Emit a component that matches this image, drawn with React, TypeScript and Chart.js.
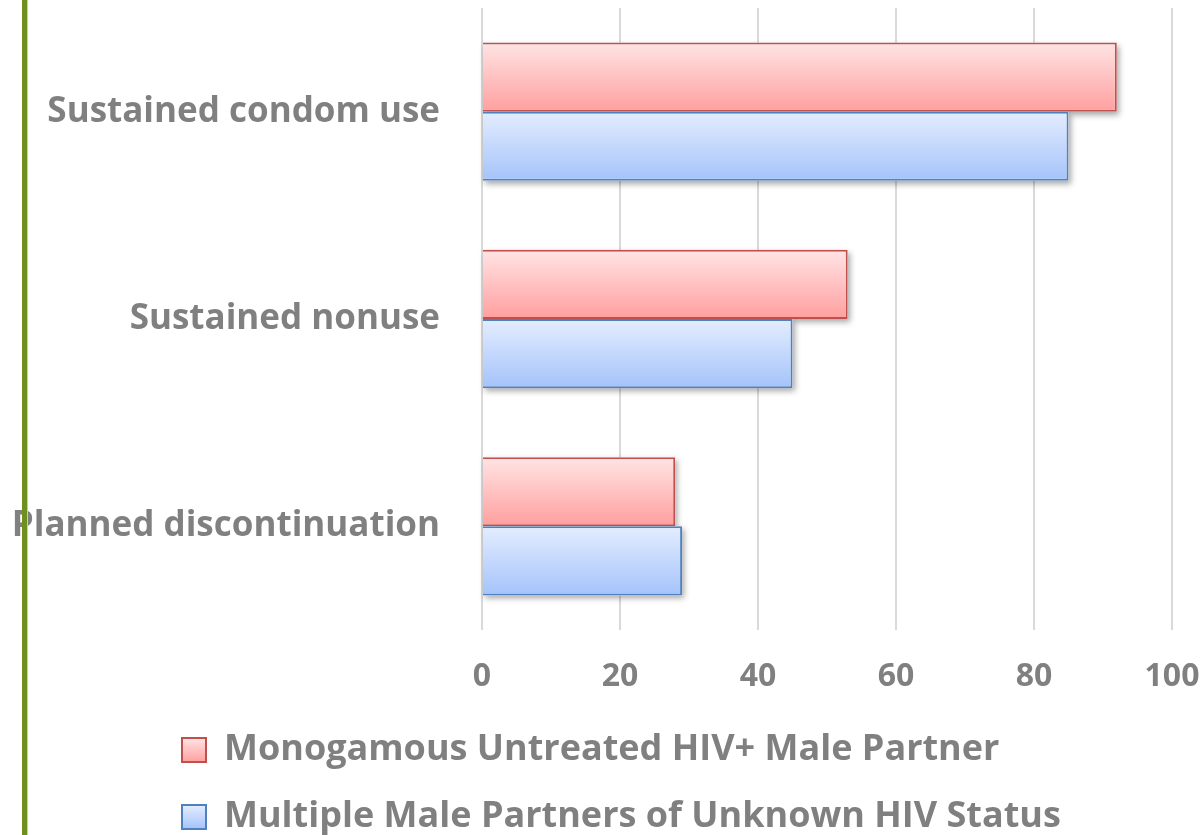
import React, { useEffect, useRef } from 'react';
import { Chart, registerables } from 'chart.js';

Chart.register(...registerables);

const categories = ['Sustained condom use', 'Sustained nonuse', 'Planned discontinuation'];
const seriesNames = ['Monogamous Untreated HIV+ Male Partner', 'Multiple Male Partners of Unknown HIV Status'];
const monogamousValues = [92, 53, 28];
const multipleValues = [85, 45, 29];
const xMin = 0;
const xMax = 100;
const xStep = 20;

const FONT = '"Open Sans"';
const GRAY = '#808080';
const LEG_FONT = 36;
const LEG_ROW = 67;
const BOX = 24;
const PAD_LEFT = 151;
const PLOT_LEFT = 482;

const barStyle = [
  { top: '#ffe4e4', bottom: '#ff9f9f', border: '#c0504d' },
  { top: '#e4edff', bottom: '#a4c3fa', border: '#4f81bd' },
];

const decorPlugin = {
  id: 'decor',
  afterLayout(chart: any) {
    const y = chart.scales.y;
    if (y) y.left = 0;
  },
  beforeDraw(chart: any) {
    const legend = chart.legend;
    const ctx = chart.ctx;
    if (legend && legend.legendItems && legend.legendHitBoxes) {
      legend.legendItems.forEach((item: any, i: number) => {
        const hb = legend.legendHitBoxes[i];
        if (!hb) return;
        const top = hb.top + Math.max((hb.height - BOX) / 2, 0);
        const g = ctx.createLinearGradient(0, top, 0, top + BOX);
        g.addColorStop(0, barStyle[i].top);
        g.addColorStop(1, barStyle[i].bottom);
        item.fillStyle = g;
      });
    }
  },
  beforeDatasetsDraw(chart: any) {
    const ctx = chart.ctx;
    chart.data.datasets.forEach((_ds: any, di: number) => {
      const meta = chart.getDatasetMeta(di);
      meta.data.forEach((el: any) => {
        const p = el.getProps(['x', 'y', 'base', 'height'], true);
        const top = p.y - p.height / 2;
        const g = ctx.createLinearGradient(0, top, 0, top + p.height);
        g.addColorStop(0, barStyle[di].top);
        g.addColorStop(1, barStyle[di].bottom);
        el.options.backgroundColor = g;
        ctx.save();
        ctx.shadowColor = 'rgba(0,0,0,0.35)';
        ctx.shadowBlur = 6;
        ctx.shadowOffsetX = 2;
        ctx.shadowOffsetY = 3;
        ctx.fillStyle = '#ffffff';
        ctx.fillRect(Math.min(p.base, p.x), top, Math.abs(p.x - p.base), p.height);
        ctx.restore();
      });
    });
  },
  afterDraw(chart: any) {
    const ctx = chart.ctx;
    ctx.save();
    ctx.fillStyle = '#6f8f1e';
    ctx.fillRect(22, 0, 5, chart.height);
    ctx.fillStyle = '#c8c8c8';
    ctx.fillRect(27, 0, 1, chart.height);
    ctx.restore();
  },
};

export default function App() {
  const ref = useRef<HTMLCanvasElement | null>(null);

  useEffect(() => {
    if (!ref.current) return;
    const chart = new Chart(ref.current, {
      type: 'bar',
      data: {
        labels: categories,
        datasets: [
          {
            label: seriesNames[0],
            data: monogamousValues,
            backgroundColor: () => barStyle[0].bottom,
            borderColor: barStyle[0].border,
            borderWidth: 2,
          },
          {
            label: seriesNames[1],
            data: multipleValues,
            backgroundColor: () => barStyle[1].bottom,
            borderColor: barStyle[1].border,
            borderWidth: 2,
          },
        ],
      },
      options: {
        indexAxis: 'y',
        animation: false,
        responsive: true,
        maintainAspectRatio: false,
        datasets: {
          bar: { categoryPercentage: 0.667, barPercentage: 1.0 },
        },
        layout: { padding: { left: PAD_LEFT, right: 32, top: 8, bottom: 0 } },
        scales: {
          x: {
            min: xMin,
            max: xMax,
            ticks: {
              stepSize: xStep,
              color: GRAY,
              padding: 28,
              font: { family: FONT, size: 32, weight: 'bold' },
            },
            grid: { color: '#d9d9d9', lineWidth: 2, drawTicks: false },
            border: { display: false },
            afterFit: (scale: any) => {
              scale.height = 71;
              scale.paddingLeft = 0;
              scale.paddingRight = 0;
            },
          },
          y: {
            ticks: {
              color: GRAY,
              padding: 42,
              font: { family: FONT, size: 35, weight: 'bold' },
            },
            grid: { display: false, drawTicks: false },
            border: { display: false },
            afterFit: (scale: any) => {
              scale.width = PLOT_LEFT - PAD_LEFT;
              scale.paddingTop = 0;
              scale.paddingBottom = 0;
            },
          },
        },
        plugins: {
          tooltip: { enabled: false },
          legend: {
            position: 'bottom',
            align: 'start',
            maxHeight: 134,
            labels: {
              color: GRAY,
              boxWidth: BOX,
              boxHeight: BOX,
              padding: LEG_ROW - LEG_FONT,
              font: { family: FONT, size: LEG_FONT, weight: 'bold' },
            },
          },
        },
      } as any,
      plugins: [decorPlugin],
    });
    return () => chart.destroy();
  }, []);

  return (
    <div style={{ position: 'fixed', left: 0, top: 0, width: 1204, height: 835, background: '#ffffff' }}>
      <canvas ref={ref} />
    </div>
  );
}
